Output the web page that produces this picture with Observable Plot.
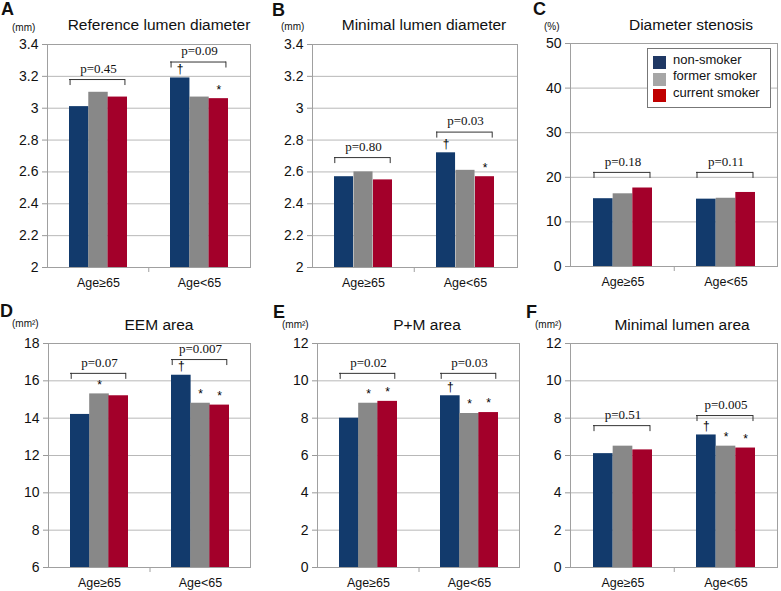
<!DOCTYPE html>
<html>
<head>
<meta charset="utf-8">
<script src="https://cdn.jsdelivr.net/npm/d3@7"></script>
<script src="https://cdn.jsdelivr.net/npm/@observablehq/plot@0.6"></script>
<style>
  body { margin: 0; background: #fff; }
  #root { position: relative; width: 781px; height: 591px; background: #fff; overflow: hidden;
          font-family: "Liberation Sans", Arial, sans-serif; color: #111; }
  .abs { position: absolute; white-space: nowrap; line-height: 1; }
  .panel { position: absolute; }
  .letter { font-weight: bold; font-size: 18px; }
  .title { font-size: 15.5px; text-align: center; width: 220px; }
  .unit { font-size: 10px; }
  .legend { position: absolute; border: 1px solid #777; background: #fff; box-sizing: border-box; }
  .sw { position: absolute; width: 13px; height: 13px; }
  .lt { position: absolute; font-size: 13px; line-height: 1; white-space: nowrap; }
</style>
</head>
<body>
<div id="root"></div>
<script>
// ---------- data ----------
const groups = ["Age≥65", "Age<65"];
const statuses = ["non-smoker", "former smoker", "current smoker"];
const barColors = ["#123a6c", "#888888", "#a3002a"];
const legendColors = ["#1f3864", "#a6a6a6", "#c00000"];

// values: [group][status]
const refLumenDiameter = [[3.01, 3.10, 3.07], [3.19, 3.07, 3.06]];
const minLumenDiameter = [[2.57, 2.60, 2.55], [2.72, 2.61, 2.57]];
const diameterStenosis = [[15.2, 16.3, 17.6], [15.1, 15.3, 16.6]];
const eemArea = [[14.2, 15.3, 15.2], [16.3, 14.8, 14.7]];
const pmArea = [[8.0, 8.8, 8.9], [9.2, 8.25, 8.3]];
const minLumenArea = [[6.1, 6.5, 6.3], [7.1, 6.5, 6.4]];

// significance marks
const refLumenMarks = [["", "", ""], ["†", "", "*"]];
const minLumenDiamMarks = [["", "", ""], ["†", "", "*"]];
const stenosisMarks = [["", "", ""], ["", "", ""]];
const eemMarks = [["", "*", ""], ["†", "*", "*"]];
const pmMarks = [["", "*", "*"], ["†", "*", "*"]];
const minLumenAreaMarks = [["", "", ""], ["†", "*", "*"]];

// p-values and bracket levels
const refLumenP = ["p=0.45", "p=0.09"], refLumenBracket = [3.18, 3.29];
const minLumenDiamP = ["p=0.80", "p=0.03"], minLumenDiamBracket = [2.69, 2.85];
const stenosisP = ["p=0.18", "p=0.11"], stenosisBracket = [21.1, 21.1];
const eemP = ["p=0.07", "p=0.007"], eemBracket = [16.4, 17.14];
const pmP = ["p=0.02", "p=0.03"], pmBracket = [10.4, 10.4];
const minLumenAreaP = ["p=0.51", "p=0.005"], minLumenAreaBracket = [7.6, 8.14];

// tick labels
const ticksDiameter = [2, 2.2, 2.4, 2.6, 2.8, 3, 3.2, 3.4];
const ticksStenosis = [0, 10, 20, 30, 40, 50];
const ticksEEM = [6, 8, 10, 12, 14, 16, 18];
const ticksArea = [0, 2, 4, 6, 8, 10, 12];

const titles = ["Reference lumen diameter", "Minimal lumen diameter", "Diameter stenosis", "EEM area", "P+M area", "Minimal lumen area"];
const letters = ["A", "B", "C", "D", "E", "F"];
const units = ["(mm)", "(mm)", "(%)", "(mm²)", "(mm²)", "(mm²)"];

// ---------- layout ----------
const panels = [
  {values: refLumenDiameter, marks: refLumenMarks, pvals: refLumenP, bracket: refLumenBracket, ticks: ticksDiameter,
   left: 0, top: 0, w: 260, h: 290, ml: 47, mr: 10, mt: 44, mb: 23,
   letter: [1, 15], title: [159, 30], unit: [12, 31]},
  {values: minLumenDiameter, marks: minLumenDiamMarks, pvals: minLumenDiamP, bracket: minLumenDiamBracket, ticks: ticksDiameter,
   left: 260, top: 0, w: 260, h: 290, ml: 52, mr: 3, mt: 44, mb: 23,
   letter: [272, 16], title: [424, 30], unit: [281, 30]},
  {values: diameterStenosis, marks: stenosisMarks, pvals: stenosisP, bracket: stenosisBracket, ticks: ticksStenosis,
   left: 520, top: 0, w: 261, h: 290, ml: 50, mr: 4, mt: 43, mb: 24,
   letter: [533, 15], title: [691, 30], unit: [544, 30]},
  {values: eemArea, marks: eemMarks, pvals: eemP, bracket: eemBracket, ticks: ticksEEM,
   left: 0, top: 290, w: 260, h: 301, ml: 48, mr: 10, mt: 53, mb: 24,
   letter: [0, 317], title: [159, 330], unit: [12, 327]},
  {values: pmArea, marks: pmMarks, pvals: pmP, bracket: pmBracket, ticks: ticksArea,
   left: 260, top: 290, w: 260, h: 301, ml: 57, mr: 1, mt: 53, mb: 24,
   letter: [273, 318], title: [427, 330], unit: [282, 328]},
  {values: minLumenArea, marks: minLumenAreaMarks, pvals: minLumenAreaP, bracket: minLumenAreaBracket, ticks: ticksArea,
   left: 520, top: 290, w: 261, h: 301, ml: 50, mr: 4, mt: 53, mb: 24,
   letter: [526, 318], title: [682, 330], unit: [535, 328]}
];

const root = document.getElementById("root");
const PAD = 0.43;

function addText(cls, text, x, baseline, size, center) {
  const d = document.createElement("div");
  d.className = "abs " + cls;
  d.textContent = text;
  const top = baseline - 0.85 * size;
  d.style.top = top + "px";
  if (center) { d.style.left = (x - 110) + "px"; } else { d.style.left = x + "px"; }
  root.appendChild(d);
}

function drawPanel(p, k) {
  const data = [];
  groups.forEach((g, gi) => statuses.forEach((s, si) =>
    data.push({group: g, status: s, si, value: p.values[gi][si], mark: p.marks[gi][si]})));
  const innerW = p.w - p.ml - p.mr;
  const step = innerW / groups.length;
  const bw = step * (1 - PAD);
  const third = bw / 3;
  const ymin = p.ticks[0], ymax = p.ticks[p.ticks.length - 1];

  const marks = [
    Plot.gridY(p.ticks, {stroke: "#b8b8b8", strokeOpacity: 1}),
    Plot.frame({stroke: "#a0a0a0"})
  ];
  statuses.forEach((s, si) => {
    const sub = data.filter(d => d.si === si);
    marks.push(Plot.barY(sub, {x: "group", y1: () => ymin, y2: "value", fill: barColors[si],
      insetLeft: si * third, insetRight: (2 - si) * third}));
    marks.push(Plot.text(sub, {x: "group", y: "value", text: "mark", dx: (si - 1) * third, dy: -9,
      fontSize: 12, fill: "black"}));
  });
  const br = groups.map((g, gi) => ({group: g, y: p.bracket[gi], label: p.pvals[gi]}));
  marks.push(Plot.ruleY(br, {x1: "group", x2: "group", y: "y", insetRight: 2, stroke: "#333"}));
  marks.push(Plot.ruleX(br, {x: "group", y1: "y", y2: "y", insetBottom: -6, dx: -bw / 2 + 0.5, stroke: "#333"}));
  marks.push(Plot.ruleX(br, {x: "group", y1: "y", y2: "y", insetBottom: -6, dx: bw / 2 - 2.5, stroke: "#333"}));
  marks.push(Plot.text(br, {x: "group", y: "y", text: "label", dy: -11, fontSize: 13,
    fontFamily: "'Liberation Serif', 'Times New Roman', serif", fill: "#111"}));
  marks.push(Plot.ruleX([groups[1]], {x: d => d, y1: () => ymin, y2: () => ymin, insetBottom: -5,
    dx: -step / 2, stroke: "#a0a0a0"}));
  marks.push(Plot.axisY({ticks: p.ticks, tickSize: 5, tickPadding: 4, tickFormat: d => String(d),
    fontSize: 14, stroke: "#999", fill: "#111", label: null}));
  marks.push(Plot.axisX({tickSize: 0, tickPadding: 11, fontSize: 12.5, fill: "#111", label: null}));

  const chart = Plot.plot({
    width: p.w, height: p.h,
    marginLeft: p.ml, marginRight: p.mr, marginTop: p.mt, marginBottom: p.mb,
    x: {type: "band", domain: groups, paddingInner: PAD, paddingOuter: PAD / 2, label: null},
    y: {domain: [ymin, ymax], label: null},
    style: {fontFamily: "'Liberation Sans', Arial, sans-serif", fontSize: "13px", background: "transparent", color: "#111"},
    marks
  });
  const wrap = document.createElement("div");
  wrap.className = "panel";
  wrap.style.left = p.left + "px";
  wrap.style.top = p.top + "px";
  wrap.appendChild(chart);
  root.appendChild(wrap);

  addText("letter", letters[k], p.letter[0], p.letter[1], 18, false);
  addText("title", titles[k], p.title[0], p.title[1], 15.5, true);
  addText("unit", units[k], p.unit[0], p.unit[1], 10, false);
}

panels.forEach(drawPanel);

// legend (panel C)
const lg = document.createElement("div");
lg.className = "legend";
Object.assign(lg.style, {left: "647px", top: "48px", width: "124px", height: "60px"});
root.appendChild(lg);
statuses.forEach((s, i) => {
  const sw = document.createElement("div");
  sw.className = "sw";
  sw.style.background = legendColors[i];
  sw.style.left = "653px";
  sw.style.top = (56 + i * 16.5) + "px";
  root.appendChild(sw);
  const t = document.createElement("div");
  t.className = "lt";
  t.textContent = s;
  t.style.left = "673px";
  t.style.top = (64 + i * 16.5 - 0.85 * 13) + "px";
  root.appendChild(t);
});
</script>
</body>
</html>
